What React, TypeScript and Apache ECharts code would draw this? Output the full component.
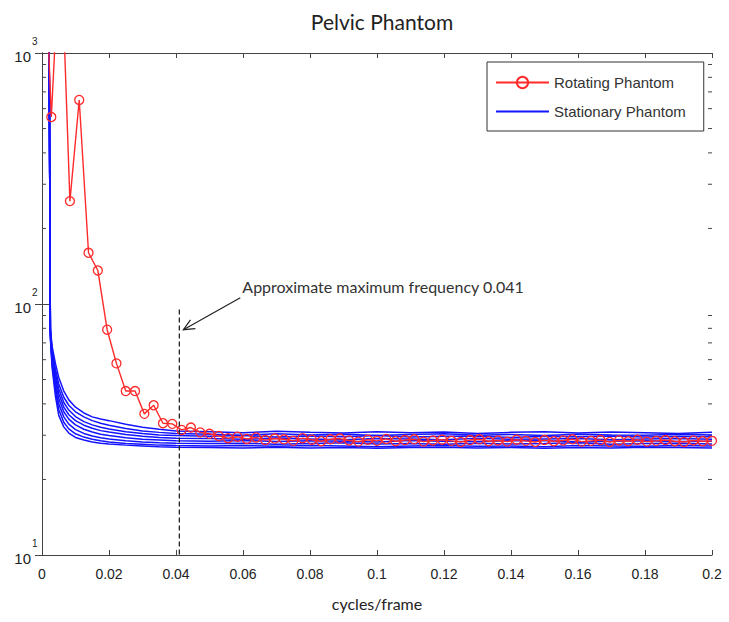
import React, { useEffect, useRef } from "react";
import * as echarts from "echarts";

// ---------- data ----------
const TITLE = "Pelvic Phantom";
const X_NAME = "cycles/frame";
const X_TICKS = [0, 0.02, 0.04, 0.06, 0.08, 0.1, 0.12, 0.14, 0.16, 0.18, 0.2];
const Y_MAJOR = [10, 100, 1000];
const Y_EXPONENTS = ["1", "2", "3"];
const Y_MINOR = [20, 30, 40, 50, 60, 70, 80, 90, 200, 300, 400, 500, 600, 700, 800, 900];

// Rotating phantom: samples every 1/360 cycles/frame (index k -> k/360)
const RED_STEP = 1 / 360;
const RED_VALUES = [
  5000, 556, 3000, 257, 650, 160, 136, 79, 58, 45, 45, 36.5, 39.5, 33.5, 33.3,
  31.5, 32.2, 30.8, 30.4, 29.8, 29.2, 29.6, 29.0, 29.4, 28.7, 29.1, 28.9, 28.5,
  29.2, 28.8, 28.4, 28.9, 29.1, 28.6, 28.3, 28.8, 28.5, 29.0, 28.4, 28.7, 28.9,
  28.3, 28.6, 28.8, 28.5, 28.2, 28.7, 28.9, 28.4, 28.6, 28.3, 28.8, 28.5, 28.2,
  28.7, 28.4, 28.6, 28.9, 28.3, 28.5, 28.7, 28.2, 28.6, 28.4, 28.8, 28.3, 28.5,
  28.7, 28.4, 28.2, 28.6, 28.4, 28.5,
];

// Stationary phantom: 8 acquisitions sampled at these frequencies
const BLUE_FREQ = [
  0.002, 0.0025, 0.003, 0.004, 0.005, 0.0065, 0.008, 0.01, 0.0125, 0.015, 0.0175,
  0.02, 0.025, 0.03, 0.035, 0.04, 0.05, 0.06, 0.07, 0.08, 0.09, 0.1, 0.11, 0.12,
  0.13, 0.14, 0.15, 0.16, 0.17, 0.18, 0.19, 0.2,
];
const BLUE_1 = [3000, 80, 68, 58, 51, 45, 41.5, 38.8, 36.8, 35.5, 34.8, 34.3, 33.2, 32.3, 31.7, 31.2,
  31.0, 30.7, 31.1, 30.8, 30.6, 31.0, 30.7, 30.9, 30.5, 30.8, 31.0, 30.6, 30.9, 30.7, 30.5, 30.8];
const BLUE_2 = [3000, 79, 66, 55, 48, 42.5, 39.5, 37.2, 35.5, 34.3, 33.5, 32.9, 31.9, 31.2, 30.8, 30.5,
  30.3, 30.0, 30.4, 30.1, 30.3, 29.9, 30.2, 30.4, 30.0, 30.2, 29.9, 30.3, 30.1, 30.0, 30.3, 30.1];
const BLUE_3 = [3000, 78, 64, 53, 46, 40.5, 37.8, 35.6, 34.0, 33.0, 32.3, 31.8, 31.0, 30.5, 30.1, 29.9,
  29.7, 29.9, 29.5, 29.8, 29.6, 29.9, 29.5, 29.7, 29.8, 29.4, 29.7, 29.6, 29.8, 29.5, 29.7, 29.6];
const BLUE_4 = [3000, 77, 63, 51, 44, 38.8, 36.2, 34.3, 32.9, 32.0, 31.3, 30.9, 30.2, 29.7, 29.4, 29.2,
  29.1, 28.9, 29.2, 29.0, 28.8, 29.1, 29.0, 28.8, 29.2, 28.9, 29.0, 29.1, 28.8, 29.0, 29.1, 28.9];
const BLUE_5 = [3000, 76, 61, 49, 42, 37.2, 34.8, 33.0, 31.7, 30.9, 30.3, 29.9, 29.3, 28.9, 28.7, 28.5,
  28.4, 28.6, 28.3, 28.5, 28.4, 28.2, 28.6, 28.4, 28.3, 28.5, 28.6, 28.2, 28.4, 28.5, 28.3, 28.4];
const BLUE_6 = [3000, 75, 60, 47, 40, 35.5, 33.2, 31.6, 30.5, 29.8, 29.3, 29.0, 28.5, 28.2, 28.0, 27.9,
  27.8, 27.9, 27.6, 27.8, 28.0, 27.7, 27.8, 27.6, 27.9, 27.7, 27.8, 28.0, 27.6, 27.8, 27.9, 27.7];
const BLUE_7 = [3000, 74, 58, 45, 38, 33.8, 31.8, 30.4, 29.5, 28.9, 28.5, 28.2, 27.8, 27.6, 27.4, 27.3,
  27.2, 27.3, 27.1, 27.3, 27.2, 27.0, 27.2, 27.3, 27.1, 27.2, 27.0, 27.3, 27.2, 27.1, 27.3, 27.2];
const BLUE_8 = [3000, 73, 56, 43, 36, 32.4, 30.6, 29.4, 28.7, 28.2, 27.9, 27.7, 27.4, 27.2, 27.0, 26.9,
  26.8, 26.7, 26.9, 26.7, 26.8, 26.6, 26.8, 26.9, 26.7, 26.8, 26.6, 26.8, 26.7, 26.9, 26.8, 26.7];
const BLUE_CURVES = [BLUE_1, BLUE_2, BLUE_3, BLUE_4, BLUE_5, BLUE_6, BLUE_7, BLUE_8];

// Annotation
const ANNOT_TEXT = "Approximate maximum frequency 0.041";
const ANNOT_FREQ = 0.041;
const ANNOT_LINE_TOP = 95;
const ARROW_FROM = [0.0592, 106];
const ARROW_TO = [0.0422, 79];
const ANNOT_TEXT_AT = [0.0598, 117];

const RED_NAME = "Rotating Phantom";
const BLUE_NAME = "Stationary Phantom";

export default function App() {
  const ref = useRef<HTMLDivElement>(null);
  useEffect(() => {
    if (!ref.current) return;
    const chart = echarts.init(ref.current, undefined, { renderer: "svg" });
    const axisColor = "#444";
    const labelFont = "'Liberation Sans', Arial, sans-serif";
    const calFont = "Lato, 'Open Sans', sans-serif";
    const blueColor = "#1414ff";
    const redColor = "#ff2a2a";

    const blueSeries = BLUE_CURVES.map((c) => ({
      name: BLUE_NAME,
      type: "line",
      data: BLUE_FREQ.map((f, i) => [f, c[i]]),
      symbol: "none",
      lineStyle: { color: blueColor, width: 1.5 },
      itemStyle: { color: blueColor },
      z: 2,
    }));

    const option: any = {
      animation: false,
      title: {
        text: TITLE,
        left: 377,
        textAlign: "center",
        top: 6,
        textStyle: { fontFamily: calFont, fontSize: 21, fontWeight: "normal", color: "#222" },
      },
      legend: {
        data: [
          { name: RED_NAME },
          {
            name: BLUE_NAME,
            itemStyle: { color: "rgba(0,0,0,0)", borderColor: "rgba(0,0,0,0)", borderWidth: 0 },
          },
        ],
        orient: "vertical",
        left: 487,
        top: 62,
        padding: [13, 18, 12, 8],
        itemWidth: 53,
        itemHeight: 14,
        itemGap: 14,
        backgroundColor: "#fff",
        borderColor: "#333",
        borderWidth: 1,
        textStyle: { fontFamily: labelFont, fontSize: 15, color: "#333" },
      },
      grid: { left: 42, right: 17, top: 53, bottom: 67 },
      xAxis: [
        {
          type: "value",
          min: 0,
          max: 0.2,
          interval: 0.02,
          name: X_NAME,
          nameLocation: "middle",
          nameGap: 40,
          nameTextStyle: { fontFamily: calFont, fontSize: 16, color: "#222" },
          axisLine: { show: true, lineStyle: { color: axisColor } },
          axisTick: { show: true, inside: true, length: 5, lineStyle: { color: axisColor } },
          axisLabel: {
            margin: 12,
            fontFamily: labelFont,
            fontSize: 14,
            color: "#222",
            formatter: (v: number) => {
              const t = X_TICKS.find((x) => Math.abs(x - v) < 1e-9);
              return t === undefined ? "" : String(t);
            },
          },
          splitLine: { show: false },
        },
        {
          type: "value",
          position: "top",
          min: 0,
          max: 0.2,
          interval: 0.02,
          axisLine: { show: true, lineStyle: { color: axisColor } },
          axisTick: { show: true, inside: true, length: 5, lineStyle: { color: axisColor } },
          axisLabel: { show: false },
          splitLine: { show: false },
        },
      ],
      yAxis: [
        {
          type: "log",
          logBase: 10,
          min: 10,
          max: 1000,
          axisLine: { show: true, lineStyle: { color: axisColor } },
          axisTick: { show: true, inside: true, length: 7, lineStyle: { color: axisColor } },
          axisLabel: { show: false },
          splitLine: { show: false },
        },
        {
          type: "log",
          logBase: 10,
          min: 10,
          max: 1000,
          position: "right",
          axisLine: { show: true, lineStyle: { color: axisColor } },
          axisTick: { show: true, inside: true, length: 7, lineStyle: { color: axisColor } },
          axisLabel: { show: false },
          splitLine: { show: false },
        },
      ],
      series: [
        ...blueSeries,
        {
          name: RED_NAME,
          type: "line",
          data: RED_VALUES.map((v, k) => [k * RED_STEP, v]),
          symbol: "circle",
          symbolSize: 9,
          showAllSymbol: true,
          lineStyle: { color: redColor, width: 1.4 },
          itemStyle: { color: "rgba(255,255,255,0)", borderColor: redColor, borderWidth: 1.3 },
          z: 3,
        },
        {
          type: "custom",
          name: "minorTicks",
          silent: true,
          clip: false,
          data: Y_MINOR.map((v) => [0, v]),
          renderItem: (_p: any, api: any) => {
            const v = api.value(1);
            const l = api.coord([0, v]);
            const r = api.coord([0.2, v]);
            const st = { stroke: axisColor, lineWidth: 1 };
            return {
              type: "group",
              children: [
                { type: "line", shape: { x1: l[0], y1: l[1], x2: l[0] + 4, y2: l[1] }, style: st },
                { type: "line", shape: { x1: r[0], y1: r[1], x2: r[0] - 4, y2: r[1] }, style: st },
              ],
            };
          },
          z: 1,
        },
        {
          type: "custom",
          name: "yLabels",
          silent: true,
          clip: false,
          data: Y_MAJOR.map((v, i) => [0, v, i]),
          renderItem: (_p: any, api: any) => {
            const v = api.value(1);
            const i = api.value(2);
            const p = api.coord([0, v]);
            return {
              type: "group",
              children: [
                {
                  type: "text",
                  x: p[0] - 11,
                  y: p[1] + 3,
                  style: {
                    text: "10",
                    fontFamily: labelFont,
                    fontSize: 15,
                    fill: "#222",
                    textAlign: "right",
                    textVerticalAlign: "middle",
                  },
                },
                {
                  type: "text",
                  x: p[0] - 10,
                  y: p[1] - 12,
                  style: {
                    text: Y_EXPONENTS[i],
                    fontFamily: labelFont,
                    fontSize: 10,
                    fill: "#222",
                    textAlign: "left",
                    textVerticalAlign: "middle",
                  },
                },
              ],
            };
          },
          z: 4,
        },
        {
          type: "custom",
          name: "annotation",
          silent: true,
          clip: false,
          data: [[ANNOT_FREQ, ANNOT_LINE_TOP]],
          renderItem: (_p: any, api: any) => {
            const top = api.coord([ANNOT_FREQ, ANNOT_LINE_TOP]);
            const bot = api.coord([ANNOT_FREQ, 10]);
            const a0 = api.coord(ARROW_FROM);
            const a1 = api.coord(ARROW_TO);
            const tp = api.coord(ANNOT_TEXT_AT);
            const dx = a1[0] - a0[0];
            const dy = a1[1] - a0[1];
            const len = Math.sqrt(dx * dx + dy * dy);
            const ux = dx / len;
            const uy = dy / len;
            const hl = 11;
            const hw = 5;
            const bx = a1[0] - ux * hl;
            const by = a1[1] - uy * hl;
            const st = { stroke: "#222", lineWidth: 1.2 };
            return {
              type: "group",
              children: [
                {
                  type: "line",
                  shape: { x1: top[0], y1: top[1], x2: bot[0], y2: bot[1] },
                  style: { stroke: "#222", lineWidth: 1.3, lineDash: [5, 3] },
                },
                { type: "line", shape: { x1: a0[0], y1: a0[1], x2: a1[0], y2: a1[1] }, style: st },
                {
                  type: "polyline",
                  shape: {
                    points: [
                      [bx - uy * hw, by + ux * hw],
                      [a1[0], a1[1]],
                      [bx + uy * hw, by - ux * hw],
                    ],
                  },
                  style: { stroke: "#222", lineWidth: 1.2, fill: "none" },
                },
                {
                  type: "text",
                  x: tp[0],
                  y: tp[1],
                  style: {
                    text: ANNOT_TEXT,
                    fontFamily: calFont,
                    fontSize: 16,
                    fill: "#333",
                    textAlign: "left",
                    textVerticalAlign: "middle",
                  },
                },
              ],
            };
          },
          z: 4,
        },
      ],
    };
    chart.setOption(option);
    return () => chart.dispose();
  }, []);
  return (
    <div
      ref={ref}
      style={{ position: "fixed", left: 0, top: 0, width: 729, height: 622, background: "#fff" }}
    />
  );
}
